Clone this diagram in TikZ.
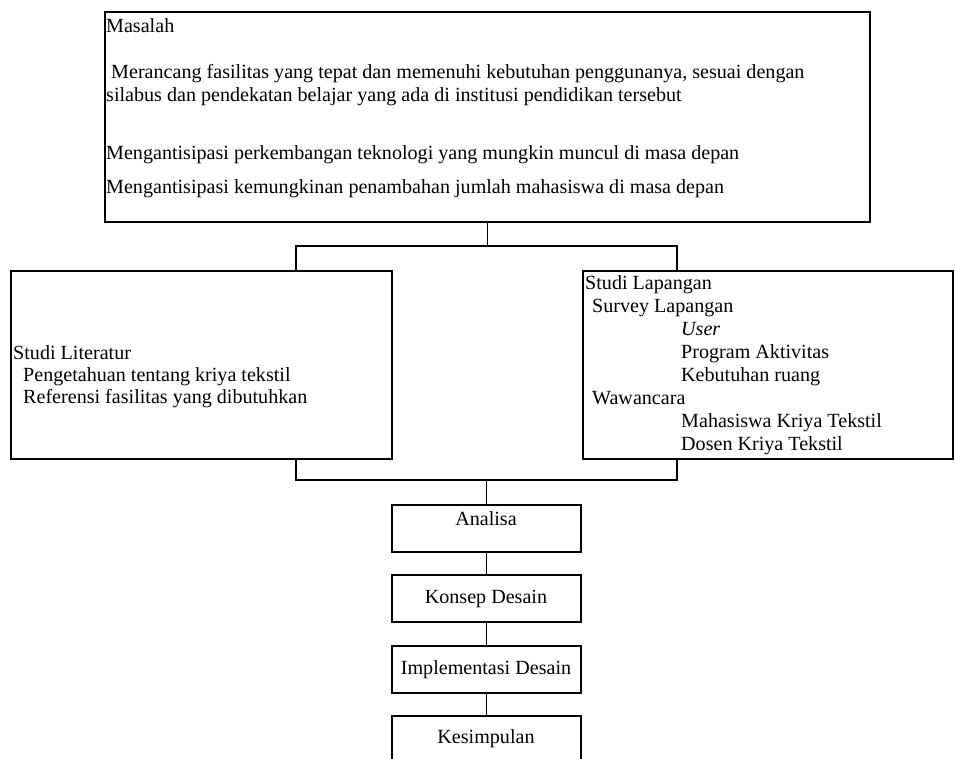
\documentclass[tikz,border=0pt]{standalone}
\usepackage{fontspec}
\setmainfont{Liberation Serif}
\tikzset{
  box/.style={draw, line width=1.5pt, anchor=north west, inner sep=0pt},
  txt/.style={anchor=base west, inner sep=0pt, font=\fontsize{20.1}{23}\selectfont},
  ctxt/.style={anchor=base, inner sep=0pt, font=\fontsize{20.1}{23}\selectfont},
  wire/.style={line width=1.5pt}
}
\begin{document}
\begin{tikzpicture}[x=1pt,y=-1pt]
\useasboundingbox (0,0) rectangle (955,758);
% boxes
\node[box, minimum width=765, minimum height=210] (top) at (104,11) {};
\node[box, minimum width=381, minimum height=188] (lit) at (10,270) {};
\node[box, minimum width=370, minimum height=188] (lap) at (582,270) {};
\node[box, minimum width=189, minimum height=47] (ana) at (391,504) {};
\node[box, minimum width=189, minimum height=47] (kon) at (391,574) {};
\node[box, minimum width=189, minimum height=47] (imp) at (391,645) {};
\node[box, minimum width=189, minimum height=60] (kes) at (391,715) {};
% top texts
\node[txt] (t1) at (106,32) {Masalah};
\node[txt] (t2) at (106,78) {\ Merancang fasilitas yang tepat dan memenuhi kebutuhan penggunanya, sesuai dengan};
\node[txt] (t3) at (106,101) {silabus dan pendekatan belajar yang ada di institusi pendidikan tersebut};
\node[txt] (t4) at (106,159) {Mengantisipasi perkembangan teknologi yang mungkin muncul di masa depan};
\node[txt] (t5) at (106,193) {Mengantisipasi kemungkinan penambahan jumlah mahasiswa di masa depan};
% literature
\node[txt] (l1) at (13,359) {Studi Literatur};
\node[txt] (l2) at (23,381) {Pengetahuan tentang kriya tekstil};
\node[txt] (l3) at (23,403) {Referensi fasilitas yang dibutuhkan};
% lapangan
\node[txt] (r1) at (585,289) {Studi Lapangan};
\node[txt] (r2) at (592,312) {Survey Lapangan};
\node[txt] (r3) at (681,335) {\itshape User};
\node[txt] (r4) at (681,358) {Program Aktivitas};
\node[txt] (r5) at (681,381) {Kebutuhan ruang};
\node[txt] (r6) at (592,404) {Wawancara};
\node[txt] (r7) at (681,427) {Mahasiswa Kriya Tekstil};
\node[txt] (r8) at (681,450) {Dosen Kriya Tekstil};
% step texts
\node[ctxt] (a1) at (486,525) {Analisa};
\node[ctxt] (a2) at (486,603) {Konsep Desain};
\node[ctxt] (a3) at (486,674) {Implementasi Desain};
\node[ctxt] (a4) at (486,743) {Kesimpulan};
% connectors
\coordinate (hl) at (296,246);
\coordinate (hr) at (677,246);
\coordinate (bl) at (296,480);
\coordinate (br) at (677,480);
\draw[wire] (top.south) -- (top.south |- hl);
\draw[wire] (hl |- lit.north) -- (hl) -- (hr) -- (hr |- lap.north);
\draw[wire] (bl |- lit.south) -- (bl) -- (br) -- (br |- lap.south);
\draw[wire] (ana.north) -- (ana.north |- bl);
\draw[wire] (ana.south) -- (kon.north);
\draw[wire] (kon.south) -- (imp.north);
\draw[wire] (imp.south) -- (kes.north);
\end{tikzpicture}
\end{document}
